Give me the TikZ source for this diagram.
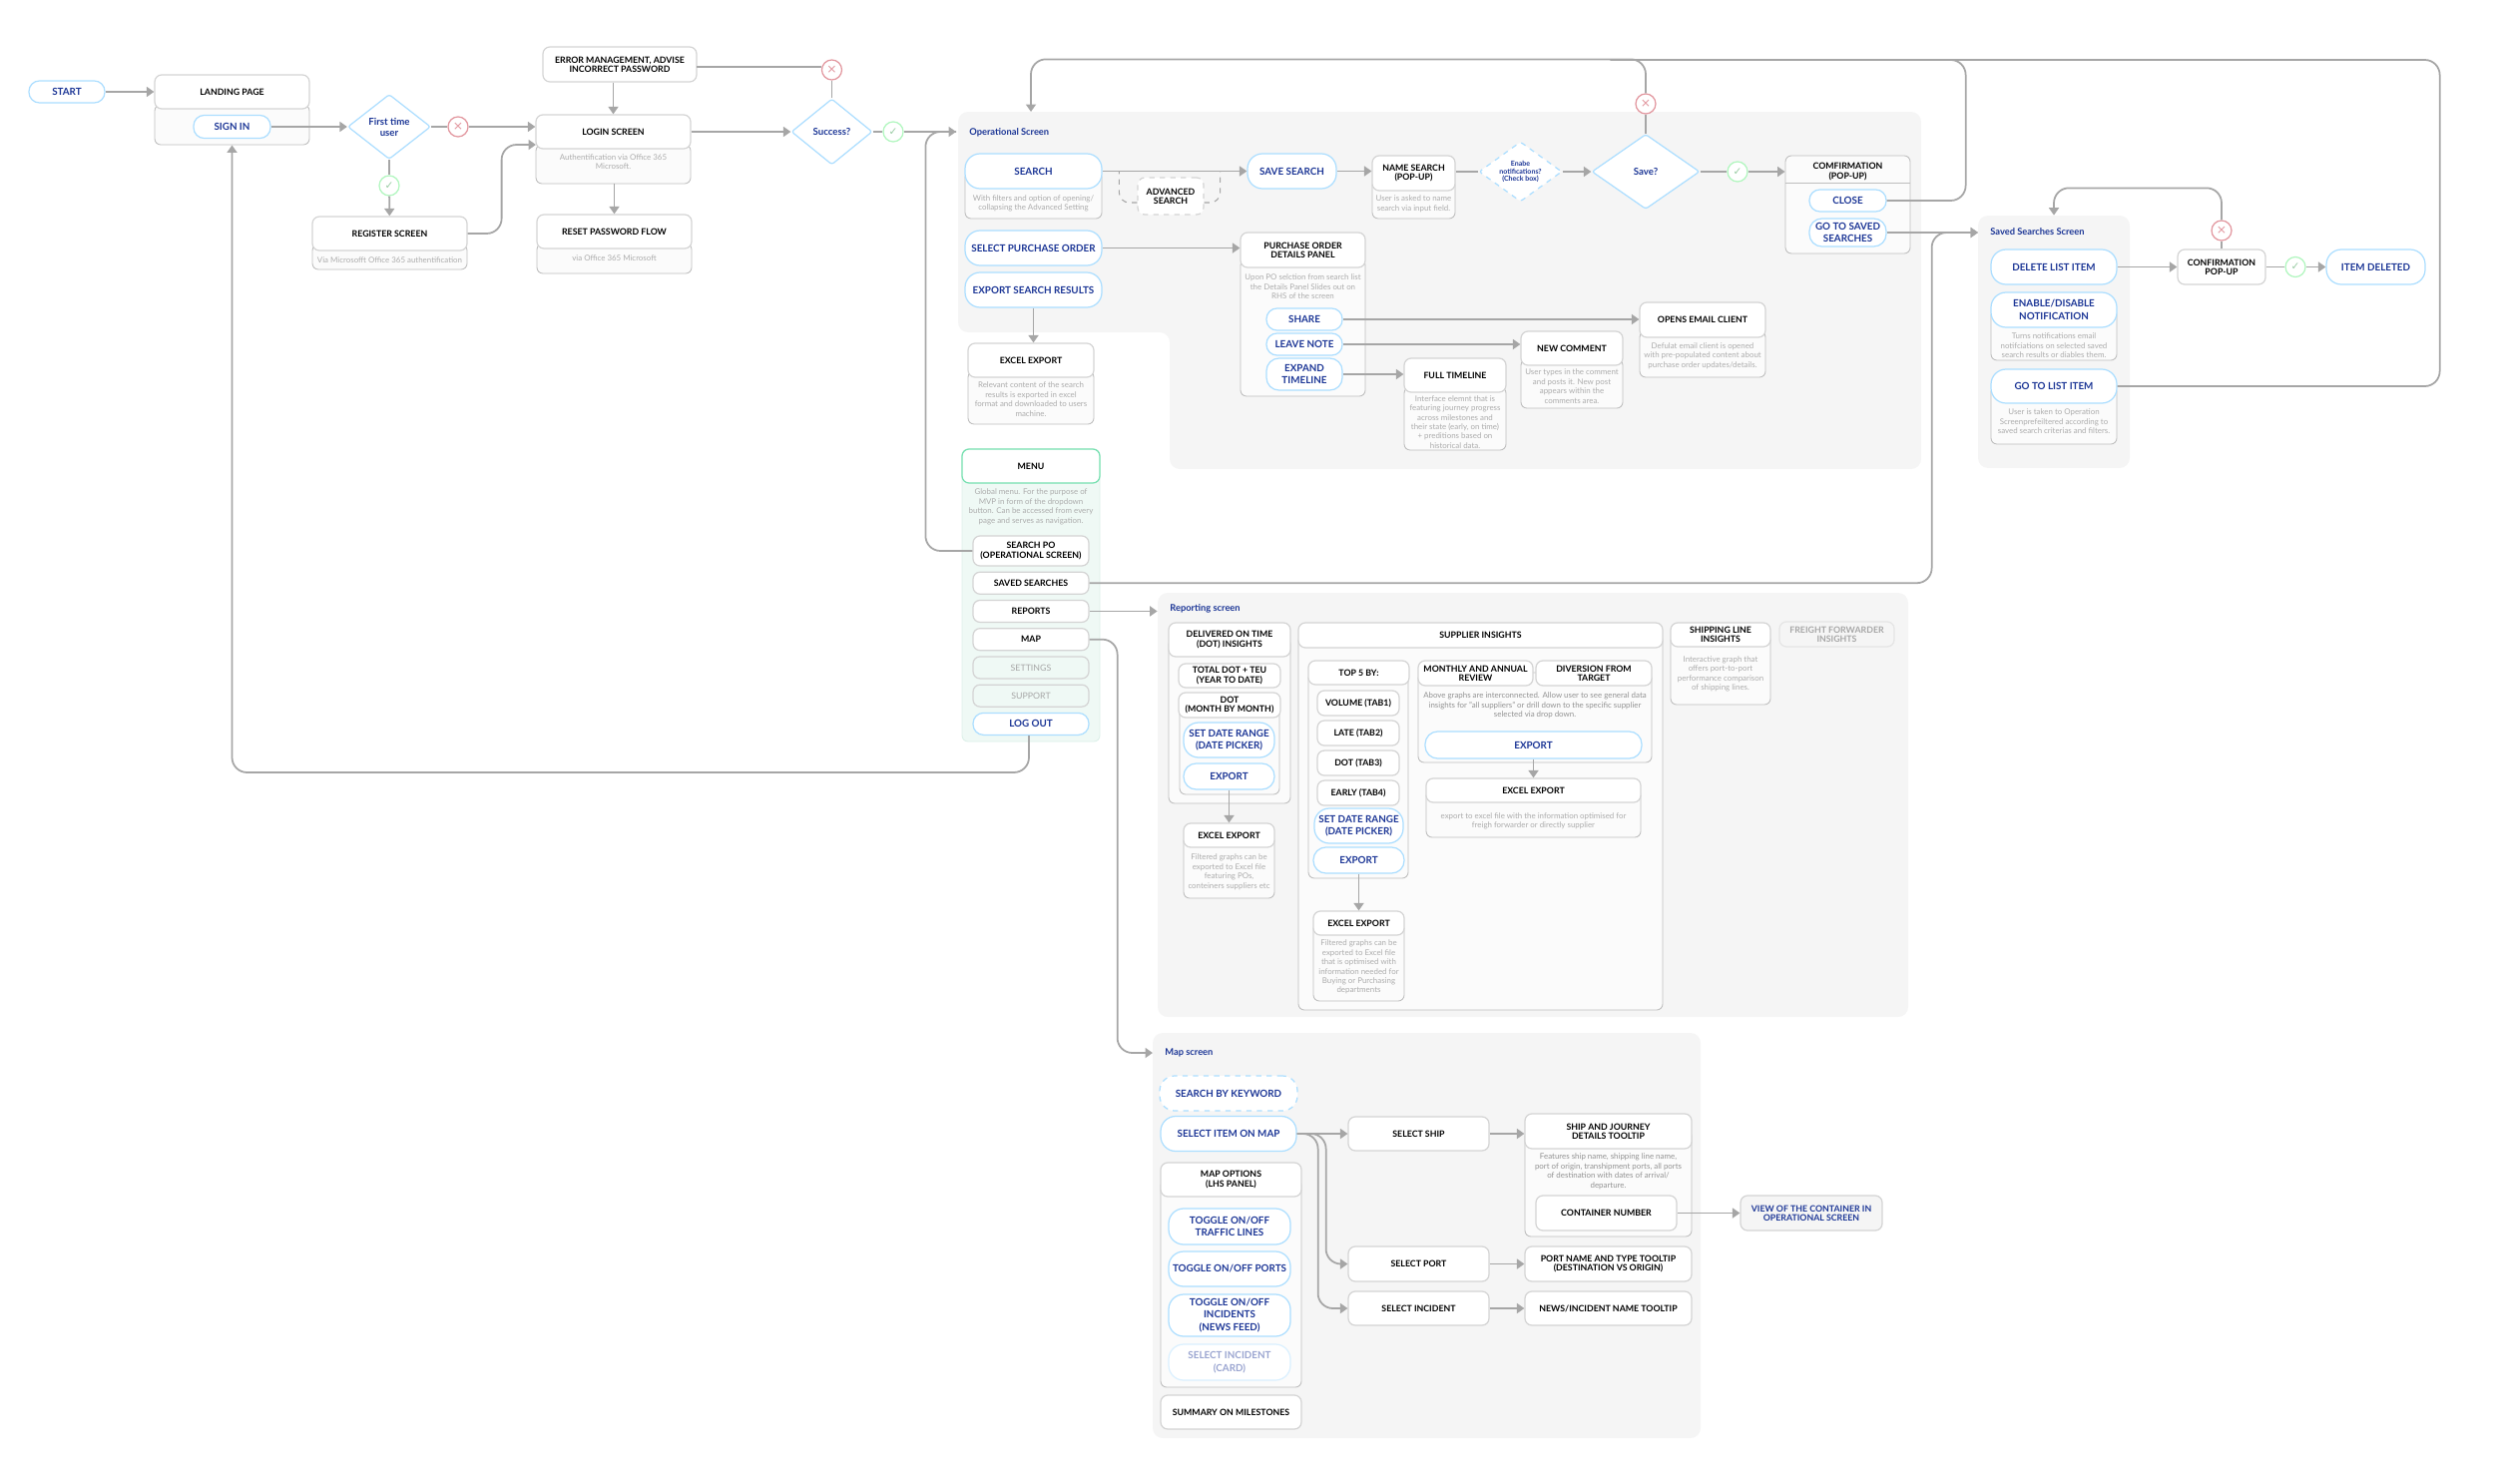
\documentclass[tikz,border=0pt]{standalone}
\usepackage{fontspec}
\setmainfont{Lato}
\newfontfamily\symb{DejaVu Sans}
\usepackage{tikz}
\usetikzlibrary{arrows.meta,positioning,shapes.geometric}
\usepackage{xcolor}
\definecolor{mainblue}{RGB}{28,54,150}
\definecolor{skyline}{RGB}{172,222,255}
\definecolor{linegrey}{RGB}{166,166,166}
\definecolor{edgegrey}{RGB}{212,212,212}
\definecolor{bodyedge}{RGB}{190,190,190}
\definecolor{bodyfill}{RGB}{251,251,251}
\definecolor{panelgrey}{RGB}{245,245,245}
\definecolor{notegrey}{RGB}{172,172,172}
\definecolor{mintedge}{RGB}{118,224,176}
\definecolor{mintfill}{RGB}{239,249,245}
\definecolor{mintline}{RGB}{220,240,232}
\definecolor{noedge}{RGB}{226,150,158}
\definecolor{yesedge}{RGB}{176,246,190}

\begin{document}
\begin{tikzpicture}[x=0.2mm, y=-0.2mm, >={Triangle[length=1.5mm, width=2mm]}]
\tikzset{
  sz/.style 2 args={minimum width=#1*0.2mm, minimum height=#2*0.2mm},
  head/.style={draw=edgegrey, line width=0.7pt, fill=white, rounded corners=1.4mm, align=center, inner sep=0pt, font=\fontsize{5}{5.3}\selectfont\bfseries},
  cardbody/.style={draw=bodyedge, line width=0.5pt, fill=bodyfill, rounded corners=1.2mm, inner sep=0pt},
  note/.style={text=notegrey, align=center, inner sep=0pt, font=\fontsize{4.5}{5.35}\selectfont},
  pill/.style={draw=skyline, line width=0.7pt, fill=white, rounded corners=3mm, align=center, inner sep=0pt, text=mainblue, font=\fontsize{5.6}{7.1}\selectfont\bfseries},
  smallpill/.style={pill, rounded corners=2.1mm},
  midpill/.style={pill, rounded corners=2.5mm},
  dashpill/.style={pill, dashed},
  fadepill/.style={pill, draw=skyline!45, text=mainblue!45},
  ask/.style={diamond, shape aspect=1.4, draw=skyline, line width=0.7pt, fill=white, rounded corners=0.5mm, align=center, inner sep=0pt, text=mainblue, font=\fontsize{5.5}{6.3}\selectfont\bfseries},
  panel/.style={fill=panelgrey, rounded corners=2mm, inner sep=0pt},
  paneltitle/.style={anchor=west, inner sep=0pt, text=mainblue, font=\fontsize{5.3}{5.8}\selectfont\bfseries},
  nomark/.style={circle, minimum size=4mm, inner sep=0pt, draw=noedge, line width=0.7pt, fill=white, text=noedge, font=\fontsize{7}{7}\symb},
  yesmark/.style={circle, minimum size=4mm, inner sep=0pt, draw=yesedge, line width=0.7pt, fill=white, text=yesedge!80!black!90, font=\fontsize{6}{6}\symb},
  link/.style={draw=linegrey, line width=1pt},
  dashlink/.style={draw=linegrey, line width=0.6pt, dashed, rounded corners=2mm}
}
\useasboundingbox (0,0) rectangle (2500,1487);

% panels
\path[fill=panelgrey, rounded corners=2mm] (960,112) -- (1925,112) -- (1925,470) -- (1172,470) -- (1172,333) -- (960,333) -- cycle;
\node[panel, sz={752}{425}] (reportpanel) at (1536,806.5) {};
\node[panel, sz={152}{253}] (savedpanel) at (2058,342.5) {};
\node[panel, sz={549}{406}] (mappanel) at (1429.5,1238) {};
\coordinate (opin) at (958,132);
\coordinate (optop) at (1033,112);
\coordinate (savedin) at (1982,233);
\coordinate (mapin) at (1155,1055);
\coordinate (loginin) at (537,145);
\coordinate (errout) at (698,67);
\coordinate (confirmdiv) at (1851.5,183);

% start and login
\node[smallpill, sz={76}{22}] (start) at (67,92) {START};
\node[cardbody, sz={155}{40}] (landingb) at (232.5,125) {};
\node[head, sz={155}{34}] (landing) at (232.5,92) {LANDING PAGE};
\node[smallpill, sz={77}{23}] (signin) at (232.5,127) {SIGN IN};
\node[ask, sz={83}{65}] (firstq) at (390,127) {First time\\user};
\node[nomark] (no1) at (459,127) {×};
\node[yesmark] (yes1) at (390,186) {✓};
\node[cardbody, sz={155}{25}] (registerb) at (390.5,257.5) {};
\node[head, sz={155}{34}] (register) at (390.5,234) {REGISTER SCREEN};
\node[note, below=1.1mm of register] (registern) {Via Microsofft Office 365 authentification};
\node[head, sz={154}{35}] (error) at (621,64.5) {ERROR MANAGEMENT, ADVISE\\INCORRECT PASSWORD};
\node[cardbody, sz={155}{39}] (loginb) at (614.5,164.5) {};
\node[head, sz={155}{34}] (login) at (614.5,132) {LOGIN SCREEN};
\node[note, below=0.9mm of login] (loginn) {Authentification via Office 365\\Microsoft.};
\node[cardbody, sz={155}{30}] (resetb) at (615.5,259) {};
\node[head, sz={155}{34}] (reset) at (615.5,232) {RESET PASSWORD FLOW};
\node[note, below=1.1mm of reset] (resetn) {via Office 365 Microsoft};
\node[ask, sz={81}{66}] (successq) at (833.5,132) {Success?};
\node[nomark] (no2) at (833.5,70) {×};
\node[yesmark] (yes2) at (895,132) {✓};

% operational screen
\node[paneltitle] (optitle) at (971,133) {Operational Screen};
\node[cardbody, sz={137}{47}] (searchb) at (1035.5,195.5) {};
\node[pill, sz={137}{35}] (search) at (1035.5,171.5) {SEARCH};
\node[note, below=1.1mm of search] (searchn) {With filters and option of opening/\\collapsing the Advanced Setting};
\node[head, dashed, sz={66}{37}] (advanced) at (1173,196.5) {ADVANCED\\SEARCH};
\node[pill, sz={89}{35}] (savesearch) at (1294.5,171.5) {SAVE SEARCH};
\node[cardbody, sz={83}{39}] (namesearchb) at (1416.5,199.5) {};
\node[head, sz={83}{35}] (namesearch) at (1416.5,173.5) {NAME SEARCH\\(POP-UP)};
\node[note, below=0.8mm of namesearch] (namesearchn) {User is asked to name\\search via input field.};
\node[ask, dashed, sz={83}{60}, font=\fontsize{4}{4.5}\selectfont\bfseries] (notifq) at (1523.5,172) {Enabe\\notifications?\\(Check box)};
\node[ask, sz={108}{75}] (saveq) at (1649,172) {Save?};
\node[nomark] (no3) at (1649,104) {×};
\node[yesmark] (yes3) at (1741,172) {✓};
\node[cardbody, sz={125}{98}] (confirmb) at (1851.5,205) {};
\node[inner sep=0pt, align=center, font=\fontsize{5}{5.3}\selectfont\bfseries] (confirm) at (1851.5,172) {COMFIRMATION\\(POP-UP)};
\node[smallpill, sz={77}{22}] (close) at (1851.5,201) {CLOSE};
\node[midpill, sz={77}{28}] (gosaved) at (1851.5,233) {GO TO SAVED\\SEARCHES};
\node[pill, sz={137}{35}] (selectpo) at (1035.5,248.5) {SELECT PURCHASE ORDER};
\node[pill, sz={137}{35}] (exportres) at (1035.5,290.5) {EXPORT SEARCH RESULTS};
\node[cardbody, sz={126}{53}] (excelb) at (1033,398.5) {};
\node[head, sz={126}{34}] (excel) at (1033,361) {EXCEL EXPORT};
\node[note, below=0.8mm of excel] (exceln) {Relevant content of the search\\results is exported in excel\\format and downloaded to users\\machine.};
\node[cardbody, sz={125}{137}] (pob) at (1305.5,328.5) {};
\node[head, sz={125}{35}] (po) at (1305.5,250.5) {PURCHASE ORDER\\DETAILS PANEL};
\node[note, below=1.2mm of po] (pon) {Upon PO selction from search list\\the Details Panel Slides out on\\RHS of the screen};
\node[smallpill, sz={76}{22}] (share) at (1307,320) {SHARE};
\node[smallpill, sz={76}{22}] (leavenote) at (1307,345) {LEAVE NOTE};
\node[midpill, sz={76}{32}] (expand) at (1307,375) {EXPAND\\TIMELINE};
\node[cardbody, sz={102}{63}] (timelineb) at (1458,419.5) {};
\node[head, sz={102}{34}] (timeline) at (1458,376) {FULL TIMELINE};
\node[note, below=0.5mm of timeline] (timelinen) {Interface elemnt that is\\featuring journey progress\\across milestones and\\their state (early, on time)\\+ preditions based on\\historical data.};
\node[cardbody, sz={102}{49}] (commentb) at (1575,384.5) {};
\node[head, sz={102}{34}] (comment) at (1575,349) {NEW COMMENT};
\node[note, below=0.6mm of comment] (commentn) {User types in the comment\\and posts it. New post\\appears within the\\comments area.};
\node[cardbody, sz={126}{46}] (emailb) at (1706,355) {};
\node[head, sz={126}{35}] (email) at (1706,320.5) {OPENS EMAIL CLIENT};
\node[note, below=0.9mm of email] (emailn) {Defulat email client is opened\\with pre-populated content about\\purchase order updates/details.};

% menu
\node[cardbody, sz={138}{293}, draw=mintline, fill=mintfill] (menub) at (1033,596.5) {};
\node[head, sz={138}{34}, draw=mintedge] (menu) at (1033,467) {MENU};
\node[note, below=1mm of menu] (menun) {Global menu. For the purpose of\\MVP in form of the dropdown\\button. Can be accessed from every\\page and serves as navigation.};
\node[head, sz={116}{30}] (searchpo) at (1033,552) {SEARCH PO\\(OPERATIONAL SCREEN)};
\node[head, sz={116}{22}, below=1mm of searchpo] (savedmenu) {SAVED SEARCHES};
\node[head, sz={116}{22}, below=1mm of savedmenu] (reports) {REPORTS};
\node[head, sz={116}{22}, below=1mm of reports] (mapitem) {MAP};
\node[head, sz={116}{22}, below=1mm of mapitem, fill=mintfill, text=linegrey, font=\fontsize{5}{5.3}\selectfont] (settings) {SETTINGS};
\node[head, sz={116}{22}, below=1mm of settings, fill=mintfill, text=linegrey, font=\fontsize{5}{5.3}\selectfont] (support) {SUPPORT};
\node[smallpill, sz={116}{22}, below=1mm of support] (logout) {LOG OUT};

% saved searches screen
\node[paneltitle] (savedtitle) at (1994,232) {Saved Searches Screen};
\node[pill, sz={126}{35}] (deleteitem) at (2058,267.5) {DELETE LIST ITEM};
\node[cardbody, sz={126}{51}] (enableb) at (2058,335.5) {};
\node[pill, sz={126}{35}] (enable) at (2058,310.5) {ENABLE/DISABLE\\NOTIFICATION};
\node[note, below=1mm of enable] (enablen) {Turns notifications email\\notifciations on selected saved\\search results or diables them.};
\node[cardbody, sz={126}{58}] (gotolistb) at (2058,416) {};
\node[pill, sz={126}{34}] (gotolist) at (2058,387) {GO TO LIST ITEM};
\node[note, below=1mm of gotolist] (gotolistn) {User is taken to Operation\\Screenprefeiltered according to\\saved search criterias and filters.};
\node[head, sz={88}{35}] (confirmtwo) at (2226,267.5) {CONFIRMATION\\POP-UP};
\node[nomark] (no4) at (2226,231) {×};
\node[yesmark] (yes4) at (2300,267.5) {✓};
\node[pill, sz={99}{35}] (itemdeleted) at (2380.5,267.5) {ITEM DELETED};

% reporting screen
\node[paneltitle] (reporttitle) at (1172,610) {Reporting screen};
\node[cardbody, sz={122}{165}] (dotb) at (1232,722.5) {};
\node[head, sz={122}{34}] (dot) at (1232,641) {DELIVERED ON TIME\\(DOT) INSIGHTS};
\node[head, sz={102}{24}] (totaldot) at (1232,677) {TOTAL DOT + TEU\\(YEAR TO DATE)};
\node[cardbody, sz={100}{90}] (monthb) at (1232,751) {};
\node[head, sz={102}{25}] (month) at (1232,706.5) {DOT\\(MONTH BY MONTH)};
\node[pill, sz={91}{35}] (rangeone) at (1231.5,741.5) {SET DATE RANGE\\(DATE PICKER)};
\node[midpill, sz={91}{26}] (exportone) at (1231.5,778) {EXPORT};
\node[cardbody, sz={91}{63}] (excelaltb) at (1231.5,868.5) {};
\node[head, sz={91}{24}] (excelalt) at (1231.5,837) {EXCEL EXPORT};
\node[note, below=1.2mm of excelalt] (excelaltn) {Filtered graphs can be\\exported to Excel file\\featuring POs,\\conteiners suppliers etc};
\node[cardbody, sz={365}{376}] (supplierb) at (1483.5,824) {};
\node[head, sz={365}{25}] (supplier) at (1483.5,636.5) {SUPPLIER INSIGHTS};
\node[cardbody, sz={100}{206}] (topb) at (1361,777) {};
\node[head, sz={101}{24}] (top) at (1361.5,674) {TOP 5 BY:};
\node[head, sz={82}{25}] (tabone) at (1361,704.5) {VOLUME (TAB1)};
\node[head, sz={82}{25}, below=0.76mm of tabone] (tabtwo) {LATE (TAB2)};
\node[head, sz={82}{25}, below=0.76mm of tabtwo] (tabthree) {DOT (TAB3)};
\node[head, sz={82}{25}, below=0.76mm of tabthree] (tabfour) {EARLY (TAB4)};
\node[pill, sz={89}{35}] (rangetwo) at (1361.5,827.5) {SET DATE RANGE\\(DATE PICKER)};
\node[midpill, sz={91}{26}] (exporttwo) at (1361.5,862) {EXPORT};
\node[cardbody, sz={91}{78}] (exceltopb) at (1361.5,964) {};
\node[head, sz={91}{24}] (exceltop) at (1361.5,925) {EXCEL EXPORT};
\node[note, below=0.8mm of exceltop] (exceltopn) {Filtered graphs can be\\exported to Excel file\\that is optimised with\\information needed for\\Buying or Purchasing\\departments};
\node[cardbody, sz={234}{90}] (monthlyb) at (1538,719) {};
\node[head, sz={115}{25}] (monthly) at (1478.5,674.5) {MONTHLY AND ANNUAL\\REVIEW};
\node[head, sz={116}{25}] (diversion) at (1597,674.5) {DIVERSION FROM\\TARGET};
\node[note, text=notegrey!85!black] (monthlyn) at (1538,707) {Above graphs are interconnected. Allow user to see general data\\insights for "all suppliers" or drill down to the specific supplier\\selected via drop down.};
\node[midpill, sz={217}{27}] (exportthree) at (1536.5,746.5) {EXPORT};
\node[cardbody, sz={215}{47}] (excelwideb) at (1536.5,815.5) {};
\node[head, sz={215}{24}] (excelwide) at (1536.5,792) {EXCEL EXPORT};
\node[note] (excelwiden) at (1536.5,823) {export to excel file with the information optimised for\\freigh forwarder or directly supplier};
\node[cardbody, sz={100}{70}] (shippingb) at (1724,671) {};
\node[head, sz={100}{24}] (shipping) at (1724,636) {SHIPPING LINE\\INSIGHTS};
\node[note, below=1.7mm of shipping] (shippingn) {Interactive graph that\\offers port-to-port\\performance  comparison\\of shipping lines.};
\node[head, sz={115}{25}, draw=edgegrey!60, fill=panelgrey, text=linegrey] (freight) at (1840.5,635.5) {FREIGHT FORWARDER\\INSIGHTS};

% map screen
\node[paneltitle] (maptitle) at (1167,1055) {Map screen};
\node[dashpill, sz={138}{35}] (keyword) at (1231,1095.5) {SEARCH BY KEYWORD};
\node[pill, sz={136}{35}] (selectitem) at (1231,1136) {SELECT ITEM ON MAP};
\node[cardbody, sz={141}{208}] (optionsb) at (1233.5,1286) {};
\node[head, sz={141}{34}] (options) at (1233.5,1182) {MAP OPTIONS\\(LHS PANEL)};
\node[pill, sz={122}{36}] (traffic) at (1232,1229) {TOGGLE ON/OFF\\TRAFFIC LINES};
\node[pill, sz={122}{35}] (ports) at (1232,1271.5) {TOGGLE ON/OFF PORTS};
\node[pill, sz={122}{42}] (incidents) at (1232,1318) {TOGGLE ON/OFF\\INCIDENTS\\(NEWS FEED)};
\node[fadepill, sz={122}{36}] (card) at (1232,1365) {SELECT INCIDENT\\(CARD)};
\node[head, sz={141}{34}] (summary) at (1233.5,1415) {SUMMARY ON MILESTONES};
\node[head, sz={141}{34}] (selectship) at (1421.5,1136) {SELECT SHIP};
\node[head, sz={141}{35}] (selectport) at (1421.5,1266.5) {SELECT PORT};
\node[head, sz={141}{34}] (selectincident) at (1421.5,1311) {SELECT INCIDENT};
\node[cardbody, sz={167}{106}] (shiptipb) at (1611.5,1186) {};
\node[head, sz={167}{35}] (shiptip) at (1611.5,1133.5) {SHIP AND JOURNEY\\DETAILS TOOLTIP};
\node[note, text=notegrey!85!black, below=0.8mm of shiptip] (shiptipn) {Features ship name, shipping line name,\\port of origin, transhipment ports, all ports\\of destination with dates of arrival/\\departure.};
\node[head, sz={141}{35}] (container) at (1609.5,1215.5) {CONTAINER NUMBER};
\node[head, sz={167}{35}] (porttip) at (1611.5,1266.5) {PORT NAME AND TYPE  TOOLTIP\\(DESTINATION VS ORIGIN)};
\node[head, sz={167}{34}] (newstip) at (1611.5,1311) {NEWS/INCIDENT NAME TOOLTIP};
\node[head, sz={142}{35}, fill=panelgrey, text=mainblue] (viewcontainer) at (1815,1215.5) {VIEW OF THE CONTAINER IN\\OPERATIONAL SCREEN};

% connectors
\draw[link, ->] (start) -- (landing);
\draw[link, ->] (signin) -- (firstq);
\draw[link] (firstq) -- (no1);
\draw[link, ->] (no1) -- (no1 -| login.west);
\draw[link] (firstq) -- (yes1);
\draw[link, ->] (yes1) -- (register);
\draw[link, ->, rounded corners=3mm] (register.east) -- ++(34,0) |- (loginin);
\draw[link, ->] (error.south -| login) -- (login);
\draw[link, ->] (loginb.south -| reset) -- (reset);
\draw[link, ->] (login) -- (successq);
\draw[link] (errout) -- (errout -| no2.west);
\draw[link] (successq) -- (no2);
\draw[link] (successq) -- (yes2);
\draw[link, ->] (yes2) -- (opin);
\draw[link, rounded corners=3mm] (searchpo.west) -- ++(-47,0) |- (opin);
\draw[link, ->] (search) -- (savesearch);
\draw[dashlink] ([yshift=-1.3mm]advanced.west) -- ++(-18,0) -- ++(0,-31);
\draw[dashlink] ([yshift=-1.3mm]advanced.east) -- ++(16,0) -- ++(0,-31);
\draw[link, ->] (savesearch) -- (savesearch -| namesearch.west);
\draw[link] (namesearch.east |- notifq) -- (notifq);
\draw[link, ->] (notifq) -- (saveq);
\draw[link] (saveq) -- (yes3);
\draw[link, ->] (yes3) -- (yes3 -| confirmb.west);
\draw[link] (saveq) -- (no3);
\draw[link, ->, rounded corners=3mm] (no3.north) -- ++(0,-34) -| (optop);
\draw[link, rounded corners=3mm] (close.east) -- ++(79,0) -- ++(0,-141) -- ++(-356,0);
\draw[link, rounded corners=3mm] (gotolist.east) -- ++(323,0) -- ++(0,-327) -- ++(-831,0);
\draw[link, ->] (gosaved) -- (savedin);
\draw[link, ->] (selectpo) -- (selectpo -| po.west);
\draw[link, ->] (exportres) -- (exportres |- excel.north);
\draw[link, ->] (share) -- (share -| email.west);
\draw[link, ->] (leavenote) -- (leavenote -| comment.west);
\draw[link, ->] (expand) -- (expand -| timeline.west);
\draw[link, ->, rounded corners=3mm] ([xshift=-0.4mm]logout.south) -- ++(0,37) -| (landingb.south);
\draw[link, ->, rounded corners=3mm] (savedmenu.east) -- ++(844,0) |- (savedin);
\draw[link, ->] (reports) -- (reports -| reportpanel.west);
\draw[link, ->, rounded corners=3mm] (mapitem.east) -- ++(28,0) |- (mapin);
\draw[link, ->] (deleteitem) -- (confirmtwo);
\draw[link] (confirmtwo) -- (no4);
\draw[link, ->, rounded corners=3mm] (no4.north) -- ++(0,-32) -| (savedpanel.north);
\draw[link] (confirmtwo) -- (yes4);
\draw[link, ->] (yes4) -- (itemdeleted);
\draw[link, ->] (exportone) -- (excelalt);
\draw[link, ->] (exporttwo) -- (exceltop);
\draw[link, ->] (exportthree) -- (excelwide);
\draw[link, ->] (selectitem) -- (selectship);
\draw[link, ->, rounded corners=3mm] (selectitem.east) -- ++(29,0) |- (selectport);
\draw[link, ->, rounded corners=3mm] (selectitem.east) -- ++(21,0) |- (selectincident);
\draw[link, ->] (selectship) -- (selectship -| shiptip.west);
\draw[link, ->] (selectport) -- (porttip);
\draw[link, ->] (selectincident) -- (newstip);
\draw[link, ->] (container) -- (viewcontainer);
\draw[draw=bodyedge, line width=0.5pt] (confirmdiv -| confirmb.west) -- (confirmdiv -| confirmb.east);
\end{tikzpicture}
\end{document}
